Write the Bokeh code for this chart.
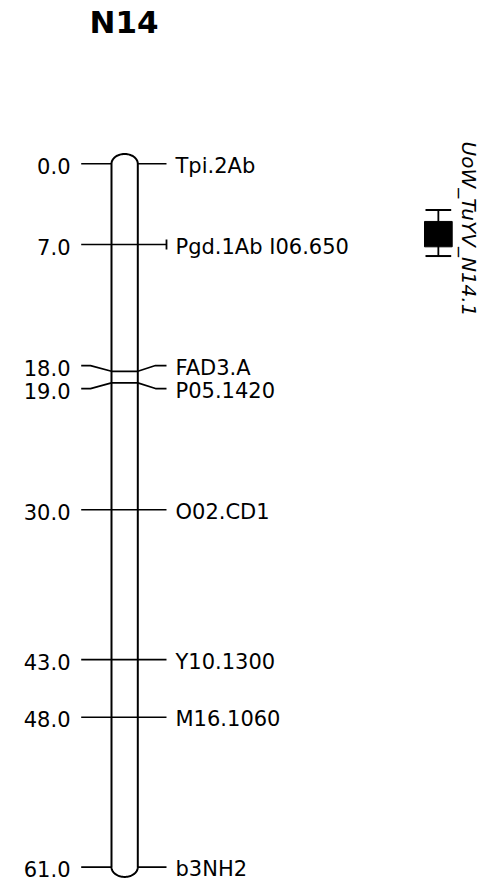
import numpy as np
from bokeh.plotting import figure
from bokeh.models import Range1d, ColumnDataSource
from bokeh.embed import file_html
from bokeh.resources import INLINE
from bokeh.core.properties import value

# ---------------- data ----------------
chrom_name = "N14"
marker_names = ["Tpi.2Ab", "Pgd.1Ab I06.650", "FAD3.A", "P05.1420",
                "O02.CD1", "Y10.1300", "M16.1060", "b3NH2"]
marker_pos = [0.0, 7.0, 18.0, 19.0, 30.0, 43.0, 48.0, 61.0]
marker_flag = [False, True, False, False, False, False, False, False]
qtl_name = "UoW_TuYV_N14.1"
qtl_inner = [5.0, 7.2]
qtl_outer = [4.0, 8.0]

# ---------------- layout (pixels / scale) ----------------
W, H = 483, 881
PX_PER_CM = 11.53
Y0_PAGE = 163.3
FONT = "DejaVu Sans"

def cm(page_y):
    return (page_y - Y0_PAGE) / PX_PER_CM

p = figure(width=W, height=H, output_backend="svg", toolbar_location=None,
           x_range=Range1d(0, W), y_range=Range1d(cm(H), cm(0)),
           min_border=0)
p.xaxis.visible = False
p.yaxis.visible = False
p.grid.visible = False
p.outline_line_color = None
p.background_fill_color = "white"

# label spreading
def spread(pos, gap):
    lab = list(pos)
    for _ in range(200):
        moved = False
        for i in range(1, len(lab)):
            d = lab[i] - lab[i - 1]
            if d < gap - 1e-9:
                push = (gap - d) / 2
                lab[i - 1] -= push
                lab[i] += push
                moved = True
        if not moved:
            break
    return lab

pos = np.array(marker_pos)
lab = np.array(spread(marker_pos, 23 / PX_PER_CM))

XL, XR = 111.0, 137.3
XC = (XL + XR) / 2
RX = (XR - XL) / 2
RY = 9.8 / PX_PER_CM
TL0, TL1, TL2 = 80.7, 90.0, XL
TR0, TR1, TR2 = XR, 155.0, 166.0

# chromosome outline
top, bot = pos.min(), pos.max()
t = np.linspace(np.pi, 2 * np.pi, 40)
t2 = np.linspace(0, np.pi, 40)
xs = np.concatenate([[XL, XL], XC + RX * np.cos(t), [XR, XR], XC + RX * np.cos(t2)])
ys = np.concatenate([[bot, top], top + RY * np.sin(t), [top, bot], bot + RY * np.sin(t2)])
p.patch(xs, ys, fill_color="white", line_color="black", line_width=2)

# marker lines
mx, my = [], []
for m, l in zip(pos, lab):
    mx.append([TL0, TL1, TL2]); my.append([l, l, m])
    mx.append([TR0, TR1, TR2]); my.append([m, l, l])
    if top < m < bot:
        mx.append([XL, XR]); my.append([m, m])
p.multi_line(mx, my, line_color="black", line_width=1.6)

# flag ticks
fl = [l for l, f in zip(lab, marker_flag) if f]
p.segment(x0=[TR2] * len(fl), y0=[l - 5 / PX_PER_CM for l in fl],
          x1=[TR2] * len(fl), y1=[l + 5 / PX_PER_CM for l in fl],
          line_color="black", line_width=1.8)

# labels
src = ColumnDataSource(dict(
    lab=lab,
    left=[f"{v:.1f}" for v in marker_pos],
    right=marker_names,
))
p.text(x=70, y="lab", text="left", source=src, text_align="right",
       text_baseline="middle", y_offset=2, text_font=value(FONT),
       text_font_size="21px", text_color="black")
p.text(x=175, y="lab", text="right", source=src, text_align="left",
       text_baseline="middle", y_offset=2, text_font=value(FONT),
       text_font_size="21px", text_color="black")

# title
p.text(x=[123.5], y=[cm(21.5)], text=[chrom_name], text_align="center",
       text_baseline="middle", text_font=value(FONT), text_font_style="bold",
       text_font_size="31px", text_color="black")

# QTL
QX0, QX1 = 424.0, 451.7
QXC = (QX0 + QX1) / 2
p.quad(left=[QX0], right=[QX1], top=[qtl_inner[0]], bottom=[qtl_inner[1]],
       fill_color="black", line_color="black")
p.segment(x0=[QXC], y0=[qtl_outer[0]], x1=[QXC], y1=[qtl_outer[1]],
          line_color="black", line_width=1.8)
p.segment(x0=[QX0 + 1, QX0 + 1], y0=qtl_outer, x1=[QX1 - 1, QX1 - 1], y1=qtl_outer,
          line_color="black", line_width=2)
p.text(x=[468], y=[cm(141)], text=[qtl_name], angle=-np.pi / 2,
       text_align="left", text_baseline="middle", text_font=value(FONT),
       text_font_style="italic", text_font_size="20px", text_color="black")

open("out.html", "w").write(file_html(p, INLINE))
